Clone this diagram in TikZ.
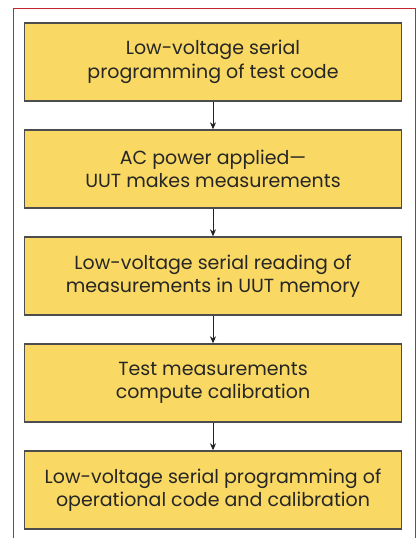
\documentclass[tikz,border=0pt]{standalone}
\usepackage{fontspec}
\setmainfont{Poppins}
\usetikzlibrary{arrows.meta}
\definecolor{stepfill}{HTML}{F9D963}
\definecolor{stepedge}{HTML}{4D4D4D}
\definecolor{framered}{HTML}{C1272D}
\definecolor{arrowdark}{HTML}{222222}
\definecolor{steptext}{HTML}{262626}
\tikzset{
  x=1pt, y=-1pt,
  stepbox/.style={draw=stepedge, line width=1.4pt, fill=stepfill,
    minimum width=377pt, minimum height=78pt, inner sep=0pt,
    align=center, font=\fontsize{19}{23.5}\selectfont, text=steptext},
  flow/.style={draw=arrowdark, line width=0.9pt, -{Stealth[length=7pt,width=6pt]}},
}
\begin{document}
\begin{tikzpicture}
\useasboundingbox (0,0) rectangle (417,538);
% open frame: left, top and right sides only
\draw[framered, line width=1.3pt] (13.5,545) -- (13.5,8.5) -- (415.5,8.5) -- (415.5,545);
\node[stepbox] (s1) at (213,62) {Low-voltage serial\\programming of test code};
\node[stepbox] (s2) at (213,169) {AC power applied---\\UUT makes measurements};
\node[stepbox] (s3) at (213,276) {Low-voltage serial reading of\\measurements in UUT memory};
\node[stepbox] (s4) at (213,383) {Test measurements\\compute calibration};
\node[stepbox] (s5) at (213,490) {Low-voltage serial programming of\\operational code and calibration};
\foreach \a/\b in {s1/s2, s2/s3, s3/s4, s4/s5}
  \draw[flow] (\a.south) -- (\b.north);
\end{tikzpicture}
\end{document}
